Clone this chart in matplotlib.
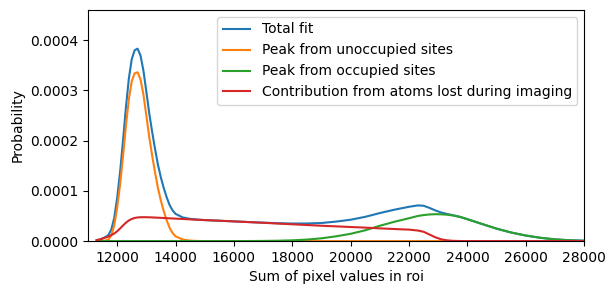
import numpy as np
import matplotlib
matplotlib.use("Agg")
import matplotlib.pyplot as plt

# sum of pixel values (x grid shared by all curves)
roi_sum = [11300, 11400, 11500, 11600, 11700, 11800, 11900, 12000, 12100, 12200,
           12300, 12400, 12500, 12600, 12700, 12800, 12900, 13000, 13100, 13200,
           13300, 13400, 13500, 13600, 13700, 13800, 13900, 14000, 14250, 14500,
           14750, 15000, 15500, 16000, 16500, 17000, 17500, 18000, 18500, 19000,
           19500, 20000, 20500, 21000, 21500, 22000, 22300, 22500, 22700, 22900,
           23100, 23300, 23500, 23750, 24000, 24500, 25000, 25500, 26000, 26500,
           27000, 27500, 28000]

# probabilities, in units of 1e-6
unoccupied = [0, 0, 0.3, 1, 3, 11, 31, 66, 112, 168,
              229, 282, 318, 334, 336, 322, 292, 250, 207, 170,
              136, 105, 80, 59, 41, 26, 16, 9.5, 3, 1,
              0.2, 0, 0, 0, 0, 0, 0, 0, 0, 0,
              0, 0, 0, 0, 0, 0, 0, 0, 0, 0,
              0, 0, 0, 0, 0, 0, 0, 0, 0, 0,
              0, 0, 0]

occupied = [0, 0, 0, 0, 0, 0, 0, 0, 0, 0,
            0, 0, 0, 0, 0, 0, 0, 0, 0, 0,
            0, 0, 0, 0, 0, 0, 0, 0, 0, 0,
            0, 0, 0, 0, 0.1, 0.3, 0.7, 1.5, 3, 5.5,
            9.5, 14.5, 21.5, 30.5, 38.5, 45.5, 50, 51.8, 53, 53.5,
            53.3, 52.5, 51, 48, 43.5, 34, 24.7, 17, 11, 6.5,
            3.4, 1.6, 0.7]

lost = [2, 3, 5, 7, 9, 12, 15, 19.5, 25, 31,
        36.5, 41, 44, 46, 47, 47.5, 47.5, 47.5, 47.3, 47.1,
        46.8, 46.5, 46.2, 45.9, 45.6, 45.3, 45, 44.7, 44, 43.2,
        42.5, 41.8, 40.5, 39.2, 37.8, 36.4, 34.9, 33.4, 32, 30.5,
        29.3, 28, 26.8, 25.3, 24, 22.8, 21, 18.5, 13, 7.5,
        3.5, 1.5, 0.5, 0.1, 0, 0, 0, 0, 0, 0,
        0, 0, 0]

total = [2, 3, 5.3, 8, 12, 23, 46, 85.5, 137, 199,
         265.5, 323, 362, 380, 383, 369.5, 339.5, 297.5, 254.3, 217.1,
         182.8, 151.5, 126.2, 104.9, 86.6, 71.3, 61, 54.2, 47, 44.2,
         42.7, 41.8, 40.5, 39.2, 37.9, 36.7, 35.6, 34.9, 35, 36,
         38.8, 42.5, 48.3, 55.8, 62.5, 68.3, 71, 70.3, 66, 61,
         56.8, 54, 51.5, 48.1, 43.5, 34, 24.7, 17, 11, 6.5,
         3.4, 1.6, 0.7]

x = np.array(roi_sum)
scale = 1e-6

fig = plt.figure(figsize=(6.15, 2.94), dpi=100)
ax = fig.add_axes([0.143, 0.180, 0.807, 0.786])

ax.plot(x, np.array(total) * scale, label="Total fit")
ax.plot(x, np.array(unoccupied) * scale, label="Peak from unoccupied sites")
ax.plot(x, np.array(occupied) * scale, label="Peak from occupied sites")
ax.plot(x, np.array(lost) * scale, label="Contribution from atoms lost during imaging")

ax.set_xlim(11000, 28000)
ax.set_ylim(0, 0.00046)
ax.set_xticks(np.arange(12000, 28001, 2000))
ax.set_xlabel("Sum of pixel values in roi")
ax.set_ylabel("Probability")
ax.legend(loc="upper right")

fig.savefig("out.png", dpi=100)
